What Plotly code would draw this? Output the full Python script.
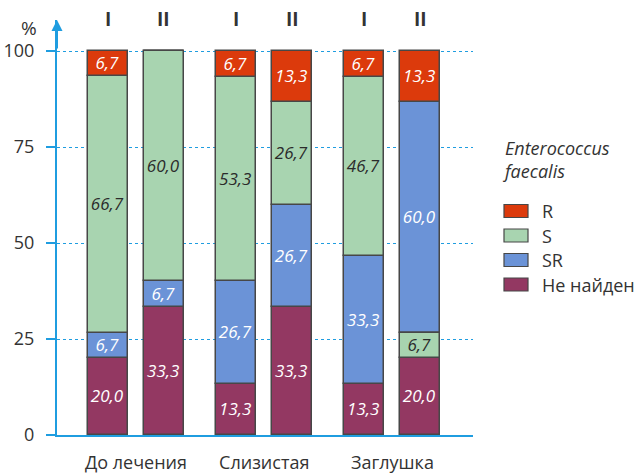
import plotly.graph_objects as go

# Treatment groups, sampling periods and detection outcome series
groups = ["До лечения", "Слизистая", "Заглушка"]
periods = ["I", "II"]
series_names = ["Не найден", "SR", "S", "R"]

# Percent values per bar: (До лечения I, II, Слизистая I, II, Заглушка I, II)
not_found = [20.0, 33.3, 13.3, 33.3, 13.3, 20.0]
sr_vals = [6.7, 6.7, 26.7, 26.7, 33.3, 60.0]
s_vals = [66.7, 60.0, 53.3, 26.7, 46.7, 6.7]
r_vals = [6.7, 0.0, 6.7, 13.3, 6.7, 13.3]

# Bottom-to-top stacking order of each bar
stack_order = [
    ["Не найден", "SR", "S", "R"],
    ["Не найден", "SR", "S", "R"],
    ["Не найден", "SR", "S", "R"],
    ["Не найден", "SR", "S", "R"],
    ["Не найден", "SR", "S", "R"],
    ["Не найден", "S", "SR", "R"],
]

legend_title = "<i>Enterococcus<br>faecalis</i>"
legend_rows = ["R", "S", "SR", "Не найден"]
y_ticks = [0, 25, 50, 75, 100]

values = {"Не найден": not_found, "SR": sr_vals, "S": s_vals, "R": r_vals}
colors = {"R": "#dc3a0c", "S": "#a8d4b0", "SR": "#6b93d7", "Не найден": "#933862"}
text_colors = {"R": "white", "S": "#2b2b2b", "SR": "white", "Не найден": "white"}

AXIS_BLUE = "#1f9de0"
TEXT = "#333333"
FONT = "Open Sans"

W, H = 641, 474
ML, MR, MT, MB = 57, 168, 20, 39
PW, PH = W - ML - MR, H - MT - MB


def px(x):
    """figure pixel column -> paper x"""
    return (x - ML) / PW


def py(y):
    """figure pixel row -> paper y"""
    return 1 - (y - MT) / PH


offset = 0.2183
bar_w = 0.312
n_bars = len(groups) * len(periods)
bar_x = [gi + (-offset if pi == 0 else offset)
         for gi in range(len(groups)) for pi in range(len(periods))]
bar_period = [periods[pi] for gi in range(len(groups)) for pi in range(len(periods))]

# base of every segment, following each bar's own stacking order
bases = {name: [0.0] * n_bars for name in series_names}
for b in range(n_bars):
    acc = 0.0
    for name in stack_order[b]:
        bases[name][b] = acc
        acc += values[name][b]


def fmt(v):
    return f"{v:.1f}".replace(".", ",") if v > 0 else ""


fig = go.Figure()
for name in series_names:
    fig.add_trace(go.Bar(
        x=bar_x,
        y=values[name],
        base=bases[name],
        width=bar_w,
        name=name,
        marker=dict(color=colors[name], line=dict(color="#474747", width=1.5)),
        text=[fmt(v) for v in values[name]],
        textposition="inside",
        insidetextanchor="middle",
        textangle=0,
        constraintext="none",
        textfont=dict(family=FONT, size=17, color=text_colors[name], style="italic"),
        showlegend=False,
        hoverinfo="skip",
    ))

annotations = []
# period labels above each bar
for x, p in zip(bar_x, bar_period):
    annotations.append(dict(x=x, xref="x", y=py(19), yref="paper", yanchor="middle",
                            text=f"<b>{p}</b>", showarrow=False,
                            font=dict(family=FONT, size=19, color=TEXT)))
# y axis arrow head
annotations.append(dict(x=0, xref="paper", y=108.1, yref="y",
                        ax=0, axref="pixel", ay=30, ayref="pixel",
                        text="", showarrow=True, arrowhead=2, arrowsize=1.1,
                        arrowwidth=2, arrowcolor=AXIS_BLUE))
# unit label
annotations.append(dict(x=px(39), xref="paper", xanchor="right",
                        y=py(28), yref="paper", yanchor="middle",
                        text="%", showarrow=False,
                        font=dict(family=FONT, size=19, color=TEXT)))

# hand-drawn legend to the right of the plot
legend_x = 504
annotations.append(dict(x=px(legend_x - 4), xref="paper", xanchor="left",
                        y=py(159), yref="paper", yanchor="middle",
                        text=legend_title, showarrow=False, align="left",
                        font=dict(family=FONT, size=18, color=TEXT)))
shapes = []
for i, name in enumerate(legend_rows):
    cy = 211 + i * 24.5
    shapes.append(dict(type="rect", xref="paper", yref="paper",
                       x0=px(legend_x), x1=px(legend_x + 24),
                       y0=py(cy - 6.5), y1=py(cy + 6.5),
                       fillcolor=colors[name], line=dict(color="#474747", width=1.2)))
    annotations.append(dict(x=px(legend_x + 36), xref="paper", xanchor="left",
                            y=py(cy), yref="paper", yanchor="middle",
                            text=name, showarrow=False,
                            font=dict(family=FONT, size=18, color=TEXT)))

fig.update_layout(
    width=W, height=H,
    margin=dict(l=ML, r=MR, t=MT, b=MB),
    paper_bgcolor="white", plot_bgcolor="white",
    barmode="overlay",
    bargap=0,
    annotations=annotations,
    shapes=shapes,
    font=dict(family=FONT, color=TEXT),
)
fig.update_xaxes(
    range=[-0.616, 2.628],
    tickvals=list(range(len(groups))), ticktext=groups,
    tickfont=dict(family=FONT, size=18, color=TEXT),
    showline=True, linecolor=AXIS_BLUE, linewidth=2,
    showgrid=False, zeroline=False, ticks="", ticklabelstandoff=10,
    automargin=False,
)
fig.update_yaxes(
    range=[0, 108.1],
    tickvals=y_ticks,
    tickfont=dict(family=FONT, size=18, color=TEXT),
    showline=True, linecolor=AXIS_BLUE, linewidth=2,
    ticks="outside", ticklen=9, tickwidth=1.5, tickcolor=AXIS_BLUE,
    ticklabelstandoff=8,
    showgrid=True, gridcolor=AXIS_BLUE, gridwidth=1.3, griddash="dot",
    zeroline=False, automargin=False,
)

fig.write_html("out.html")
